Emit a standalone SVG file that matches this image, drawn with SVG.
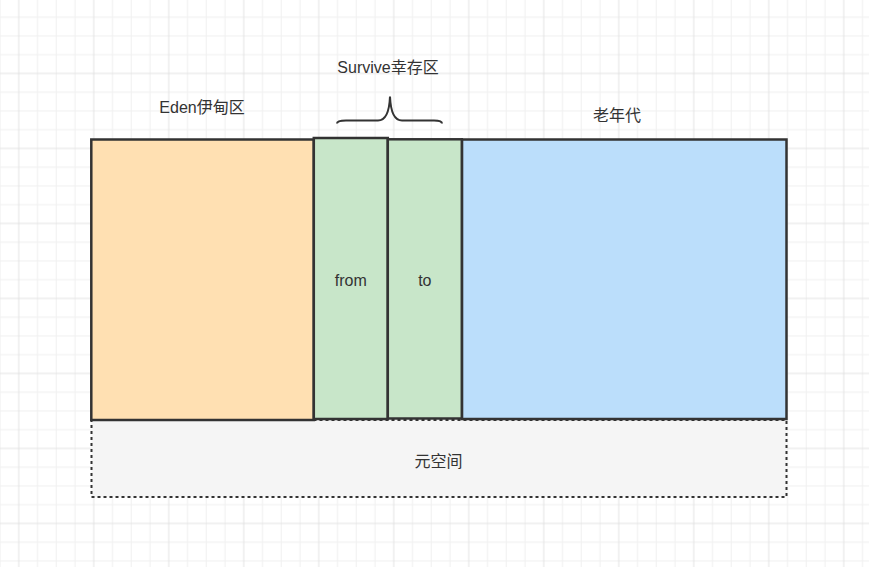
<svg xmlns="http://www.w3.org/2000/svg" width="869" height="567" viewBox="0 0 869 567">
  <defs>
    <pattern id="grid" patternUnits="userSpaceOnUse" x="18.75" y="73.45" width="75" height="75">
      <rect x="18.25" y="0" width="1" height="75" fill="#f0f0f0"/>
      <rect x="37" y="0" width="1" height="75" fill="#f0f0f0"/>
      <rect x="55.75" y="0" width="1" height="75" fill="#f0f0f0"/>
      <rect x="0" y="18.25" width="75" height="1" fill="#f0f0f0"/>
      <rect x="0" y="37" width="75" height="1" fill="#f0f0f0"/>
      <rect x="0" y="55.75" width="75" height="1" fill="#f0f0f0"/>
      <rect x="-0.5" y="0" width="1" height="75" fill="#e2e2e2"/>
      <rect x="74.5" y="0" width="1" height="75" fill="#e2e2e2"/>
      <rect x="0" y="-0.5" width="75" height="1" fill="#e2e2e2"/>
      <rect x="0" y="74.5" width="75" height="1" fill="#e2e2e2"/>
    </pattern>
  </defs>
  <style>
    .box { stroke: #333333; stroke-width: 2.5; }
    .lbl { font-family: "Liberation Sans", "Noto Sans CJK SC", sans-serif; font-size: 16px; fill: #333333; text-anchor: middle; }
  </style>
  <rect x="0" y="0" width="869" height="567" fill="#ffffff"/>
  <rect x="0" y="0" width="869" height="567" fill="url(#grid)"/>

  <g id="meta">
    <rect x="91.5" y="420" width="695" height="77" fill="#f5f5f5" stroke="#333333" stroke-width="2" stroke-dasharray="3 3"/>
    <text class="lbl" x="438.5" y="466.5">元空间</text>
  </g>
  <g id="eden">
    <rect class="box" x="91.3" y="139.5" width="222.5" height="280.5" fill="#ffe0b2"/>
    <text class="lbl" x="202" y="113">Eden伊甸区</text>
  </g>
  <g id="old">
    <rect class="box" x="462" y="139.5" width="324.5" height="279.5" fill="#bbdefb"/>
    <text class="lbl" x="617" y="121">老年代</text>
  </g>
  <g id="from">
    <rect class="box" x="313.8" y="138" width="74" height="281" fill="#c8e6c9"/>
    <text class="lbl" x="350.8" y="285.5">from</text>
  </g>
  <g id="to">
    <rect class="box" x="387.8" y="139.3" width="74" height="279.2" fill="#c8e6c9"/>
    <text class="lbl" x="424.8" y="285.5">to</text>
  </g>
  <g id="survive">
    <path d="M337,123.5 Q337,120.5 346,120.5 L378,120.5 Q389,120.5 390,96.5 Q391,120.5 402,120.5 L434,120.5 Q442,120.5 442,123.5" fill="none" stroke="#333333" stroke-width="2"/>
    <text class="lbl" x="388" y="72.5">Survive幸存区</text>
  </g>
  <g id="connectors"/>
</svg>
